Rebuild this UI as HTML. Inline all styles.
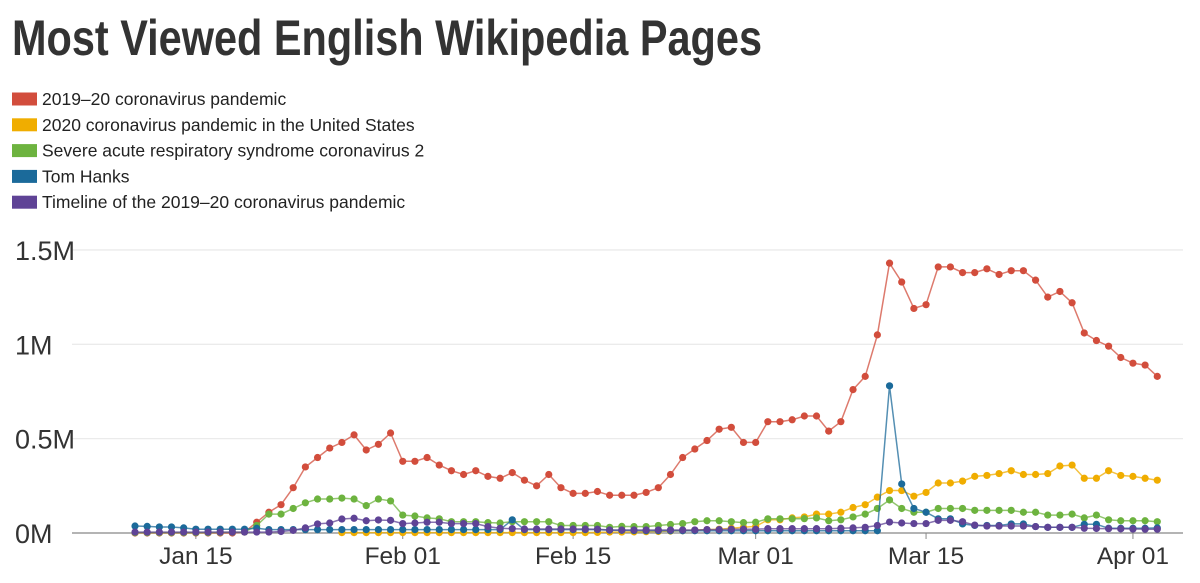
<!DOCTYPE html>
<html><head><meta charset="utf-8"><style>
html,body{margin:0;padding:0;background:#fff;width:1200px;height:583px;overflow:hidden;font-family:"Liberation Sans Narrow","Liberation Sans",sans-serif;}
</style></head><body>
<svg id="chart" width="1200" height="583" xmlns="http://www.w3.org/2000/svg">
<text x="12" y="55" font-family="'Liberation Sans Narrow','Liberation Sans',sans-serif" font-weight="bold" font-size="50" fill="#333" textLength="750" lengthAdjust="spacingAndGlyphs">Most Viewed English Wikipedia Pages</text>
<g id="legend"></g>
<g id="grid"></g>
<g id="series"></g>
</svg>
<script>
const seriesNames=["2019–20 coronavirus pandemic","2020 coronavirus pandemic in the United States","Severe acute respiratory syndrome coronavirus 2","Tom Hanks","Timeline of the 2019–20 coronavirus pandemic"];
const seriesColors=["#d24d3c","#f0ad00","#6db33f","#1b6a9a","#5f4396"];
const yTicks=[0,0.5,1,1.5];
const yTickLabels=["0M","0.5M","1M","1.5M"];
const xTickDays=[5,22,36,51,65,82];
const xTickLabels=["Jan 15","Feb 01","Feb 15","Mar 01","Mar 15","Apr 01"];
const red=[0,0,0,0,0,0,0,0,0,0.005,0.057,0.11,0.15,0.24,0.35,0.40,0.45,0.48,0.52,0.44,0.47,0.53,0.38,0.38,0.40,0.36,0.33,0.31,0.33,0.30,0.29,0.32,0.28,0.25,0.31,0.24,0.21,0.21,0.22,0.20,0.20,0.20,0.215,0.24,0.31,0.40,0.445,0.49,0.55,0.56,0.48,0.48,0.59,0.59,0.60,0.62,0.62,0.54,0.59,0.76,0.83,1.05,1.43,1.33,1.19,1.21,1.41,1.41,1.38,1.38,1.40,1.37,1.39,1.39,1.34,1.25,1.28,1.22,1.06,1.02,0.99,0.93,0.90,0.89,0.83];
const yellow=[null,null,null,null,null,null,null,null,null,null,null,null,null,null,null,null,null,0.002,0.002,0.002,0.002,0.002,0.002,0.002,0.002,0.002,0.002,0.002,0.002,0.002,0.002,0.002,0.002,0.002,0.002,0.002,0.002,0.002,0.003,0.005,0.005,0.006,0.007,0.008,0.01,0.012,0.015,0.018,0.02,0.025,0.03,0.035,0.07,0.07,0.08,0.085,0.10,0.10,0.11,0.135,0.15,0.19,0.225,0.225,0.195,0.215,0.265,0.265,0.275,0.30,0.305,0.315,0.33,0.31,0.31,0.315,0.355,0.36,0.29,0.29,0.33,0.305,0.30,0.29,0.28];
const green=[0.002,0.002,0.002,0.002,0.002,0.002,0.002,0.003,0.004,0.005,0.04,0.10,0.10,0.13,0.16,0.18,0.18,0.185,0.18,0.145,0.18,0.17,0.095,0.09,0.08,0.075,0.06,0.06,0.06,0.055,0.053,0.06,0.06,0.06,0.06,0.04,0.04,0.04,0.04,0.03,0.035,0.034,0.034,0.04,0.045,0.05,0.06,0.065,0.065,0.06,0.055,0.057,0.075,0.075,0.075,0.076,0.08,0.065,0.07,0.085,0.10,0.13,0.175,0.13,0.11,0.11,0.13,0.13,0.13,0.12,0.12,0.12,0.12,0.11,0.11,0.095,0.095,0.10,0.08,0.095,0.07,0.065,0.065,0.065,0.06];
const blue=[0.037,0.035,0.032,0.032,0.027,0.02,0.02,0.02,0.02,0.02,0.025,0.018,0.018,0.018,0.018,0.018,0.018,0.018,0.018,0.018,0.018,0.018,0.018,0.018,0.018,0.018,0.018,0.018,0.018,0.018,0.018,0.07,0.018,0.018,0.018,0.018,0.018,0.018,0.018,0.015,0.014,0.013,0.012,0.012,0.012,0.012,0.012,0.012,0.012,0.012,0.012,0.012,0.012,0.012,0.012,0.012,0.012,0.012,0.012,0.012,0.012,0.012,0.78,0.26,0.13,0.11,0.075,0.075,0.048,0.04,0.04,0.04,0.048,0.048,0.034,0.03,0.03,0.03,0.046,0.046,0.025,0.025,0.025,0.025,0.027];
const purple=[0.005,0.005,0.005,0.005,0.005,0.005,0.005,0.005,0.005,0.005,0.005,0.005,0.008,0.014,0.027,0.048,0.053,0.074,0.078,0.065,0.069,0.067,0.05,0.053,0.057,0.057,0.05,0.05,0.05,0.034,0.025,0.023,0.021,0.021,0.021,0.021,0.021,0.021,0.02,0.016,0.016,0.016,0.016,0.016,0.016,0.016,0.016,0.018,0.018,0.02,0.02,0.02,0.023,0.023,0.023,0.023,0.023,0.023,0.025,0.027,0.03,0.04,0.058,0.053,0.05,0.05,0.067,0.067,0.06,0.042,0.037,0.037,0.037,0.037,0.034,0.03,0.03,0.03,0.025,0.024,0.023,0.022,0.021,0.02,0.02];
const allSeries=[red,yellow,green,blue,purple];
const drawOrder=[0,1,2,3,4];

const NS="http://www.w3.org/2000/svg";
const X0=135, DX=12.17, Y0=533, YS=188.7;
function xs(i){return X0+i*DX;}
function ys(v){return Y0-v*YS;}
function mk(tag,attrs,parent){const e=document.createElementNS(NS,tag);for(const k in attrs)e.setAttribute(k,attrs[k]);parent.appendChild(e);return e;}

const legend=document.getElementById('legend');
seriesNames.forEach((n,i)=>{
  const y=99+i*25.8;
  const r=mk('rect',{x:12,y:y-6.5,width:25,height:13,fill:seriesColors[i]},legend);
  
  
  const t=mk('text',{x:42,y:y+6,'font-size':17.5,fill:'#222','font-family':"'Liberation Sans Narrow','Liberation Sans',sans-serif"},legend);
  t.textContent=n;
  
  
});

const grid=document.getElementById('grid');
yTicks.forEach((v,i)=>{
  if(v>0){const l=mk('line',{x1:72,x2:1183,y1:ys(v),y2:ys(v),stroke:'#ebebeb','stroke-width':1.3},grid);
  
  }
  const t=mk('text',{x:15,y:ys(v)+10,'font-size':27,fill:'#333','font-family':"'Liberation Sans Narrow','Liberation Sans',sans-serif"},grid);
  t.textContent=yTickLabels[i];
  
  
});
const ax=mk('line',{x1:72,x2:1183,y1:Y0,y2:Y0,stroke:'#888','stroke-width':1.3},grid);


xTickDays.forEach((d,i)=>{
  const tk=mk('line',{x1:xs(d),x2:xs(d),y1:Y0,y2:Y0+6,stroke:'#888'},grid);
  
  
  const t=mk('text',{x:xs(d),y:Y0+31,'font-size':24.5,fill:'#333','text-anchor':'middle','font-family':"'Liberation Sans Narrow','Liberation Sans',sans-serif"},grid);
  t.textContent=xTickLabels[i];
  
  
});

const sg=document.getElementById('series');
drawOrder.forEach(si=>{
  const data=allSeries[si];
  const g=mk('g',{},sg);
  
  
  let d='';
  data.forEach((v,i)=>{if(v===null)return;d+=(d?'L':'M')+xs(i).toFixed(1)+','+ys(v).toFixed(1);});
  const p=mk('path',{d:d,fill:'none',stroke:seriesColors[si],'stroke-width':1.5,'stroke-opacity':0.75},g);
  
  
  data.forEach((v,i)=>{if(v===null)return;
    const c=mk('circle',{cx:xs(i),cy:ys(v),r:3.6,fill:seriesColors[si]},g);
    
    
  });
});
</script>
</body></html>
